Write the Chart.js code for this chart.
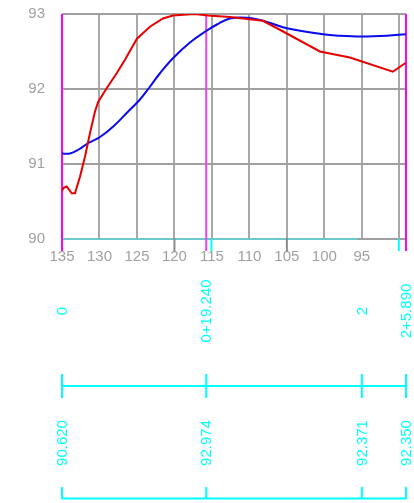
<!DOCTYPE html>
<html>
<head>
<meta charset="utf-8">
<script src="https://cdn.jsdelivr.net/npm/chart.js@4/dist/chart.umd.min.js"></script>
<style>
html,body{margin:0;padding:0;background:#fff;}
canvas{display:block;}
</style>
</head>
<body>
<canvas id="c" width="414" height="503"></canvas>
<script>
// ---- data ----
const xGridValues = [135,130,125,120,115,110,105,100,95,90];
const xTickLabels = ['135','130','125','120','115','110','105','100','95',''];
const yTickValues = [90,91,92,93];

const groundX = [135,134.83,134.37,133.71,133.27,132.6,131.93,131.27,130.6,130.16,129.04,127.71,126.6,125.0,123.27,121.53,120.2,117.27,115.53,112.6,108.2,105.93,100.6,96.6,90.87,89.13];
const groundY = [90.64,90.68,90.70,90.61,90.61,90.83,91.10,91.41,91.70,91.83,92.01,92.21,92.39,92.67,92.83,92.94,92.98,93.00,92.98,92.96,92.91,92.79,92.50,92.42,92.23,92.35];

const designX = [135,133.93,132.83,131.49,129.93,128.16,126.37,124.6,123.27,121.93,120.2,117.93,115.67,114.33,112.6,110.33,108.2,105.0,100.2,97.93,95,91.67,89.13];
const designY = [91.14,91.14,91.19,91.28,91.36,91.50,91.68,91.86,92.03,92.21,92.41,92.62,92.78,92.86,92.94,92.95,92.91,92.81,92.73,92.71,92.70,92.71,92.73];

const stationNames = ['0','0+19.240','2','2+5.890'];
const stationPos = [135,115.76,95,89.11];
const stationElev = ['90.620','92.974','92.371','92.350'];

const majorTickValues = [120,105];
const cyanTickValues = [115,90];
const baselineEnd = 95.6;

// ---- chart ----
const FONT = 'Liberation Sans, Arial, sans-serif';
const pts = (xs, ys) => xs.map((x,i)=>({x:x, y:ys[i]}));

const overlay = {
  id:'overlay',
  beforeDatasetsDraw(chart){
    const {ctx, chartArea:a, scales:{x,y}} = chart;
    ctx.save();
    const yb = y.getPixelForValue(90);
    ctx.strokeStyle = '#6cc9c9'; ctx.lineWidth = 2;
    ctx.beginPath(); ctx.moveTo(x.getPixelForValue(135), yb); ctx.lineTo(x.getPixelForValue(baselineEnd), yb); ctx.stroke();
    ctx.strokeStyle = '#8c8c8c'; ctx.lineWidth = 2;
    majorTickValues.forEach(v=>{const px=x.getPixelForValue(v); ctx.beginPath(); ctx.moveTo(px, yb-1); ctx.lineTo(px, yb+13); ctx.stroke();});
    ctx.strokeStyle = '#00ffff';
    cyanTickValues.forEach(v=>{const px=x.getPixelForValue(v)-0.5; ctx.beginPath(); ctx.moveTo(px, yb); ctx.lineTo(px, yb+12); ctx.stroke();});
    stationPos.forEach((v,i)=>{
      if (i===2) return;
      const px = x.getPixelForValue(v);
      ctx.strokeStyle = i===1 ? '#e844f4' : '#ff00ff';
      ctx.lineWidth = 2;
      ctx.beginPath(); ctx.moveTo(px, a.top); ctx.lineTo(px, yb+12); ctx.stroke();
    });
    ctx.restore();
  },
  afterDraw(chart){
    const {ctx, scales:{x}} = chart;
    ctx.save();
    ctx.fillStyle = '#00ffff'; ctx.strokeStyle = '#00ffff'; ctx.lineWidth = 2;
    ctx.font = '15px ' + FONT;
    ctx.textAlign = 'center'; ctx.textBaseline = 'middle';
    stationPos.forEach((v,i)=>{
      const px = x.getPixelForValue(v);
      ctx.save(); ctx.translate(px+1, 311); ctx.rotate(-Math.PI/2); ctx.fillText(stationNames[i],0,0); ctx.restore();
      ctx.save(); ctx.translate(px+1, 443); ctx.rotate(-Math.PI/2); ctx.fillText(stationElev[i],0,0); ctx.restore();
    });
    const x0 = x.getPixelForValue(stationPos[0]), x1 = x.getPixelForValue(stationPos[stationPos.length-1]);
    ctx.beginPath(); ctx.moveTo(x0,386); ctx.lineTo(x1,386); ctx.stroke();
    stationPos.forEach(v=>{const px=x.getPixelForValue(v); ctx.beginPath(); ctx.moveTo(px,374); ctx.lineTo(px,398); ctx.stroke();});
    ctx.beginPath(); ctx.moveTo(x0,498.5); ctx.lineTo(x1,498.5); ctx.stroke();
    stationPos.forEach(v=>{const px=x.getPixelForValue(v); ctx.beginPath(); ctx.moveTo(px,487); ctx.lineTo(px,499); ctx.stroke();});
    ctx.restore();
  }
};

new Chart(document.getElementById('c'), {
  type:'line',
  data:{
    datasets:[
      {data:pts(groundX, groundY), borderColor:'#e60000', borderWidth:2, pointRadius:0, tension:0, fill:false},
      {data:pts(designX, designY), borderColor:'#0a0aee', borderWidth:2, pointRadius:0, tension:0.4, fill:false}
    ]
  },
  options:{
    responsive:false, animation:false,
    layout:{padding:{top:14,right:8,left:0,bottom:0}},
    plugins:{legend:{display:false}, tooltip:{enabled:false}},
    scales:{
      x:{
        type:'linear', reverse:true, min:stationPos[stationPos.length-1], max:135,
        afterBuildTicks(s){ s.ticks = xGridValues.map(v=>({value:v})); },
        afterFit(s){ s.height = 264; s.paddingLeft = 0; s.paddingRight = 0; },
        ticks:{ autoSkip:false, maxRotation:0, padding:9, color:'#a0a0a0', font:{size:15, family:FONT},
          callback:(v)=>{ const i = xGridValues.indexOf(v); return i>=0 ? xTickLabels[i] : ''; } },
        grid:{ color:'#a8a8a8', lineWidth:2, drawTicks:false },
        border:{ display:false }
      },
      y:{
        type:'linear', min:90, max:93,
        afterBuildTicks(s){ s.ticks = yTickValues.map(v=>({value:v})); },
        afterFit(s){ s.width = 62; s.paddingTop = 0; s.paddingBottom = 0; },
        ticks:{ padding:17, color:'#a0a0a0', font:{size:15, family:FONT} },
        grid:{ color:'#a0a0a0', lineWidth:2, drawTicks:false },
        border:{ display:false }
      }
    }
  },
  plugins:[overlay]
});
</script>
</body>
</html>
